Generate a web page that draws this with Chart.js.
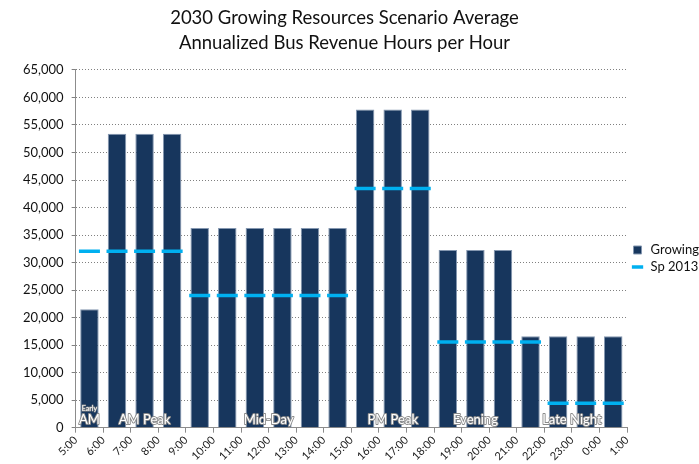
<!DOCTYPE html>
<html lang="en">
<head>
    <meta charset="UTF-8">
    <title>2030 Growing Resources Scenario</title>
    <script src="https://cdn.jsdelivr.net/npm/chart.js"></script>
    <style>
        html, body { margin: 0; padding: 0; background: #fff; }
        #wrap { width: 699px; height: 464px; }
    </style>
</head>
<body>
    <div id="wrap"><canvas id="grafico"></canvas></div>

    <script>
        // hour boundaries shown on the x axis
        const hourTicks = ['5:00', '6:00', '7:00', '8:00', '9:00', '10:00', '11:00', '12:00', '13:00', '14:00',
            '15:00', '16:00', '17:00', '18:00', '19:00', '20:00', '21:00', '22:00', '23:00', '0:00', '1:00'];

        // one value per hour starting at 5:00
        const growing = [21500, 53400, 53400, 53400, 36300, 36300, 36300, 36300, 36300, 36300,
            57800, 57800, 57800, 32300, 32300, 32300, 16600, 16600, 16600, 16600];
        const sp2013 = [32050, 32050, 32050, 32050, 24000, 24000, 24000, 24000, 24000, 24000,
            43450, 43450, 43450, 15550, 15550, 15550, 15550, 4450, 4450, 4450];

        // service periods (start / end hour index)
        const periodNames = ['AM Peak', 'Mid-Day', 'PM Peak', 'Evening', 'Late Night'];
        const periodStart = [1, 4, 10, 13, 16];
        const periodEnd = [4, 10, 13, 16, 20];

        const yTicks = { min: 0, max: 65000, step: 5000 };

        const fuente = 'Lato, "Open Sans", sans-serif';

        const puntos = arr => arr.map((v, i) => ({ x: i + 0.5, y: v }));

        // draws the period names along the bottom of the bars
        const periodos = {
            id: 'periodos',
            afterDatasetsDraw(chart) {
                const ctx = chart.ctx;
                const x = chart.scales.x;
                const yBase = chart.scales.y.getPixelForValue(0);
                ctx.save();
                ctx.textAlign = 'center';
                ctx.textBaseline = 'alphabetic';
                ctx.lineJoin = 'round';
                ctx.strokeStyle = '#8a8a8a';
                ctx.fillStyle = '#ffffff';
                ctx.lineWidth = 1.8;

                ctx.font = '13px ' + fuente;
                periodNames.forEach((n, i) => {
                    const cx = x.getPixelForValue((periodStart[i] + periodEnd[i]) / 2);
                    ctx.strokeText(n, cx, yBase - 4);
                    ctx.fillText(n, cx, yBase - 4);
                });

                // early AM is squeezed into the first bar
                const cx0 = x.getPixelForValue(0.5);
                ctx.strokeText('AM', cx0, yBase - 4);
                ctx.fillText('AM', cx0, yBase - 4);
                ctx.font = '7px ' + fuente;
                ctx.lineWidth = 1.2;
                ctx.strokeText('Early', cx0, yBase - 17);
                ctx.fillText('Early', cx0, yBase - 17);
                ctx.restore();
            }
        };

        // nudges the legend down beside the plot and the title back to the page centre
        const ajustes = {
            id: 'ajustes',
            afterLayout(chart) {
                chart.legend.top += 53;
                chart.titleBlock.left -= 10;
                chart.titleBlock.right -= 10;
            }
        };

        new Chart(document.getElementById('grafico'), {
            type: 'bar',
            data: {
                datasets: [
                    {
                        label: 'Growing',
                        data: puntos(growing),
                        backgroundColor: '#17365d',
                        borderColor: '#8497b0',
                        borderWidth: 1,
                        barPercentage: 0.67,
                        categoryPercentage: 1,
                        pointStyle: 'rect',
                        order: 2
                    },
                    {
                        type: 'line',
                        label: 'Sp 2013',
                        data: puntos(sp2013),
                        showLine: false,
                        pointStyle: 'line',
                        pointRadius: 10.5,
                        pointHoverRadius: 10.5,
                        borderColor: '#00b0f0',
                        backgroundColor: '#00b0f0',
                        borderWidth: 3.5,
                        pointBorderWidth: 3.5,
                        order: 1
                    }
                ]
            },
            options: {
                responsive: true,
                maintainAspectRatio: false,
                animation: false,
                layout: { padding: { left: 0, right: -10, top: 0, bottom: 0 } },
                plugins: {
                    title: {
                        display: true,
                        text: ['2030 Growing Resources Scenario Average', 'Annualized Bus Revenue Hours per Hour'],
                        color: '#111',
                        font: { family: fuente, size: 18.5, weight: 'normal', lineHeight: 1.35 },
                        padding: { top: 6, bottom: 14 }
                    },
                    legend: {
                        position: 'right',
                        labels: {
                            usePointStyle: true,
                            boxHeight: 8,
                            padding: 4,
                            color: '#111',
                            font: { family: fuente, size: 13, lineHeight: 1.8 },
                            sort: (a, b) => a.datasetIndex - b.datasetIndex
                        }
                    },
                    tooltip: { enabled: false }
                },
                scales: {
                    x: {
                        type: 'linear',
                        min: 0,
                        max: 20,
                        offset: false,
                        grid: {
                            offset: false,
                            drawOnChartArea: false,
                            color: '#8c8c8c',
                            tickLength: 5
                        },
                        border: { color: '#8c8c8c', width: 1 },
                        ticks: {
                            stepSize: 1,
                            autoSkip: false,
                            maxRotation: 45,
                            minRotation: 45,
                            padding: 1,
                            color: '#222',
                            font: { family: fuente, size: 11 },
                            callback: v => hourTicks[v]
                        }
                    },
                    y: {
                        min: yTicks.min,
                        max: yTicks.max,
                        afterFit: scale => { scale.width += 15; },
                        grid: {
                            color: '#808080',
                            lineWidth: 1,
                            tickLength: 4
                        },
                        border: { color: '#8c8c8c', width: 1, dash: [1, 2] },
                        ticks: {
                            stepSize: yTicks.step,
                            padding: 8,
                            color: '#111',
                            font: { family: fuente, size: 13 },
                            callback: v => v.toLocaleString('en-US')
                        }
                    }
                }
            },
            plugins: [periodos, ajustes]
        });
    </script>
</body>
</html>
